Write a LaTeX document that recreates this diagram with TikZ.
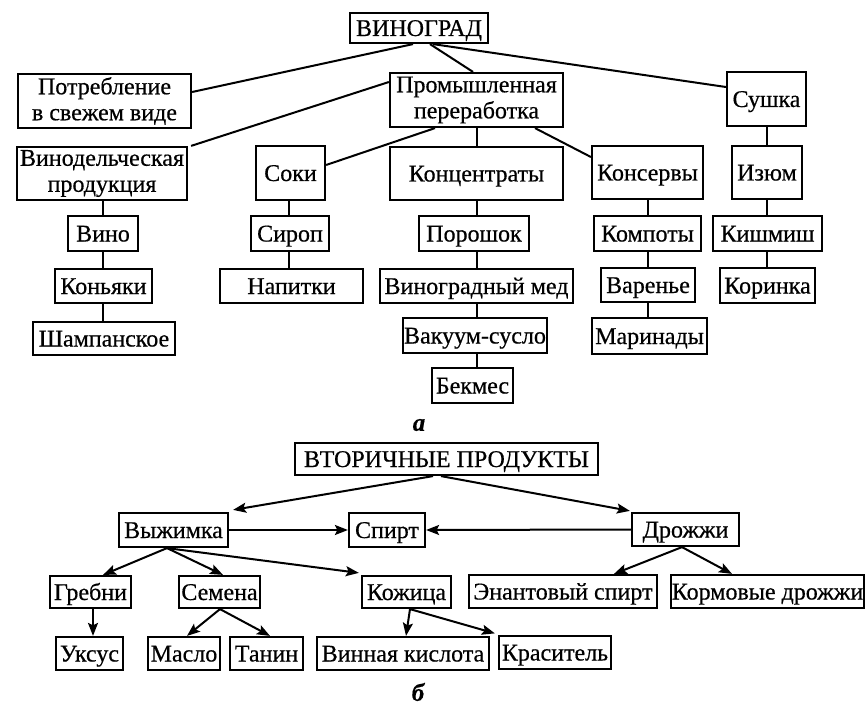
\documentclass[tikz,border=0pt]{standalone}
\usepackage{fontspec}
\setmainfont{Liberation Serif}[FakeBold=0.5]
\usetikzlibrary{arrows.meta}
\begin{document}
\begin{tikzpicture}[x=1pt,y=-1pt,
  bx/.style={draw, line width=2.2pt, inner sep=0pt, align=center, font=\fontsize{24}{26}\selectfont},
  bxo/.style={bx, text height=18pt, text depth=2pt},
  ln/.style={line width=2pt},
  ar/.style={line width=2pt, -{Stealth[length=13pt,width=10pt,inset=2.5pt]}},
  lbl/.style={inner sep=0pt, font=\fontsize{25}{27}\selectfont\bfseries\itshape},
]
\useasboundingbox (0,0) rectangle (868,706);
% ---------- part a ----------
\node[bxo, minimum width=138pt, minimum height=30pt] (vin) at (419,28) {ВИНОГРАД};
\node[bx, minimum width=173pt, minimum height=54pt] (potr) at (104.5,101) {Потребление\\в свежем виде};
\node[bx, minimum width=173pt, minimum height=54pt] (prom) at (476.5,100) {Промышленная\\переработка};
\node[bxo, minimum width=79pt, minimum height=54pt] (sush) at (766.5,99) {Сушка};
\node[bx, minimum width=170pt, minimum height=53pt] (vinod) at (102,173.5) {Винодельческая\\продукция};
\node[bxo, minimum width=69pt, minimum height=54pt] (soki) at (290.5,173) {Соки};
\node[bxo, minimum width=173pt, minimum height=53pt] (konc) at (476.5,173.5) {Концентраты};
\node[bxo, minimum width=111pt, minimum height=53pt] (kons) at (647.5,172.5) {Консервы};
\node[bxo, minimum width=70pt, minimum height=53pt] (izum) at (767,172.5) {Изюм};
\node[bxo, minimum width=70pt, minimum height=35pt] (vino) at (103,233.5) {Вино};
\node[bxo, minimum width=97pt, minimum height=34pt] (konyak) at (103.5,286) {Коньяки};
\node[bxo, minimum width=142pt, minimum height=33pt] (shamp) at (104,338.5) {Шампанское};
\node[bxo, minimum width=78pt, minimum height=35pt] (sirop) at (290,233.5) {Сироп};
\node[bxo, minimum width=143pt, minimum height=34pt] (napit) at (291.5,286) {Напитки};
\node[bxo, minimum width=110pt, minimum height=35pt] (porosh) at (474,233.5) {Порошок};
\node[bxo, minimum width=193pt, minimum height=34pt] (vmed) at (476.5,286) {Виноградный мед};
\node[bxo, minimum width=144pt, minimum height=35pt] (vakuum) at (475,335.5) {Вакуум-сусло};
\node[bxo, minimum width=81pt, minimum height=35pt] (bekmes) at (472.5,385.5) {Бекмес};
\node[bxo, minimum width=107pt, minimum height=35pt] (kompot) at (647.5,233.5) {Компоты};
\node[bxo, minimum width=94pt, minimum height=34pt] (varen) at (648,285) {Варенье};
\node[bxo, minimum width=115pt, minimum height=36pt] (marin) at (649.5,336) {Маринады};
\node[bxo, minimum width=109pt, minimum height=35pt] (kishm) at (767.5,233.5) {Кишмиш};
\node[bxo, minimum width=95pt, minimum height=35pt] (korin) at (767.5,285.5) {Коринка};
\node[lbl] (la) at (419,425) {а};

\draw[ln] ([xshift=-6pt]vin.south) -- ([yshift=9pt]potr.east);
\draw[ln] ([xshift=11pt]vin.south) -- ([xshift=-3.5pt]prom.north);
\draw[ln] ([xshift=14pt]vin.south) -- ([yshift=12pt]sush.west);
\draw[ln] ([yshift=18pt]prom.west) -- ([xshift=3pt]vinod.north east);
\draw[ln] ([xshift=-41.5pt]prom.south) -- ([yshift=8pt]soki.east);
\draw[ln] (prom.south) -- (prom.south |- konc.north);
\draw[ln] ([xshift=58.5pt]prom.south) -- ([yshift=15.5pt]kons.west);
\draw[ln] (sush.south) -- (sush.south |- izum.north);
\draw[ln] ([xshift=1pt]vinod.south) -- ([xshift=1pt]vinod.south |- vino.north);
\draw[ln] (vino.south) -- (vino.south |- konyak.north);
\draw[ln] (vino.south |- konyak.south) -- (vino.south |- shamp.north);
\draw[ln] ([xshift=-1.5pt]soki.south) -- ([xshift=-1.5pt]soki.south |- sirop.north);
\draw[ln] ([xshift=-1.5pt]soki.south |- sirop.south) -- ([xshift=-1.5pt]soki.south |- napit.north);
\draw[ln] (konc.south) -- (konc.south |- porosh.north);
\draw[ln] (konc.south |- porosh.south) -- (konc.south |- vmed.north);
\draw[ln] (konc.south |- vmed.south) -- (konc.south |- vakuum.north);
\draw[ln] (konc.south |- vakuum.south) -- (konc.south |- bekmes.north);
\draw[ln] (kons.south) -- (kons.south |- kompot.north);
\draw[ln] (kons.south |- kompot.south) -- (kons.south |- varen.north);
\draw[ln] (kons.south |- varen.south) -- (kons.south |- marin.north);
\draw[ln] (izum.south) -- (izum.south |- kishm.north);
\draw[ln] (izum.south |- kishm.south) -- (izum.south |- korin.north);

% ---------- part b ----------
\node[bxo, minimum width=303pt, minimum height=32pt] (vtor) at (446.5,459) {ВТОРИЧНЫЕ ПРОДУКТЫ};
\node[bxo, minimum width=109pt, minimum height=34pt] (vyzh) at (173.5,530) {Выжимка};
\node[bxo, minimum width=76pt, minimum height=34pt] (spirt) at (387,530) {Спирт};
\node[bxo, minimum width=107pt, minimum height=33pt] (drozh) at (685.5,529.5) {Дрожжи};
\node[bxo, minimum width=81pt, minimum height=32pt] (grebn) at (90.5,592) {Гребни};
\node[bxo, minimum width=81pt, minimum height=32pt] (semen) at (219.5,592) {Семена};
\node[bxo, minimum width=89pt, minimum height=32pt] (kozh) at (406.5,592) {Кожица};
\node[bxo, minimum width=188pt, minimum height=33pt] (enant) at (563,591.5) {Энантовый спирт};
\node[bxo, minimum width=193pt, minimum height=33pt] (korm) at (767.5,591.5) {Кормовые дрожжи};
\node[bxo, minimum width=67pt, minimum height=33pt] (uksus) at (89.5,653.5) {Уксус};
\node[bxo, minimum width=72pt, minimum height=33pt] (maslo) at (184,653.5) {Масло};
\node[bxo, minimum width=73pt, minimum height=33pt] (tanin) at (266.5,653.5) {Танин};
\node[bxo, minimum width=172pt, minimum height=33pt] (vkisl) at (403,653.5) {Винная кислота};
\node[bxo, minimum width=112pt, minimum height=33pt] (krasit) at (555,652.5) {Краситель};
\node[lbl] (lb) at (418,692) {б};

\draw[ar] ([xshift=-13.5pt]vtor.south) -- ([xshift=4pt,yshift=2pt]vyzh.north east);
\draw[ar] ([xshift=-5.5pt]vtor.south) -- ([xshift=-1pt,yshift=1pt]drozh.north west);
\draw[ar] (vyzh.east) -- (spirt.west);
\draw[ar] (drozh.west) -- (spirt.east);
\draw[ar] ([xshift=-6.5pt]vyzh.south) -- ([xshift=12.5pt]grebn.north);
\draw[ar] ([xshift=-6.5pt]vyzh.south) -- ([xshift=3.5pt]semen.north);
\draw[ar] ([xshift=-6.5pt]vyzh.south) -- ([xshift=-2pt,yshift=2pt]kozh.north west);
\draw[ar] ([xshift=2.5pt]grebn.south) -- ([xshift=2.5pt]grebn.south |- uksus.north);
\draw[ar] ([xshift=0.5pt]semen.south) -- ([xshift=3pt]maslo.north);
\draw[ar] ([xshift=0.5pt]semen.south) -- ([xshift=3.5pt]tanin.north);
\draw[ar] ([xshift=3.5pt]kozh.south) -- ([xshift=3pt]vkisl.north);
\draw[ar] ([xshift=3.5pt]kozh.south) -- ([xshift=-3pt,yshift=1.5pt]krasit.north west);
\draw[ar] ([xshift=-3.5pt]drozh.south) -- ([xshift=51pt]enant.north);
\draw[ar] ([xshift=-3.5pt]drozh.south) -- ([xshift=-35.5pt]korm.north);
\end{tikzpicture}
\end{document}
